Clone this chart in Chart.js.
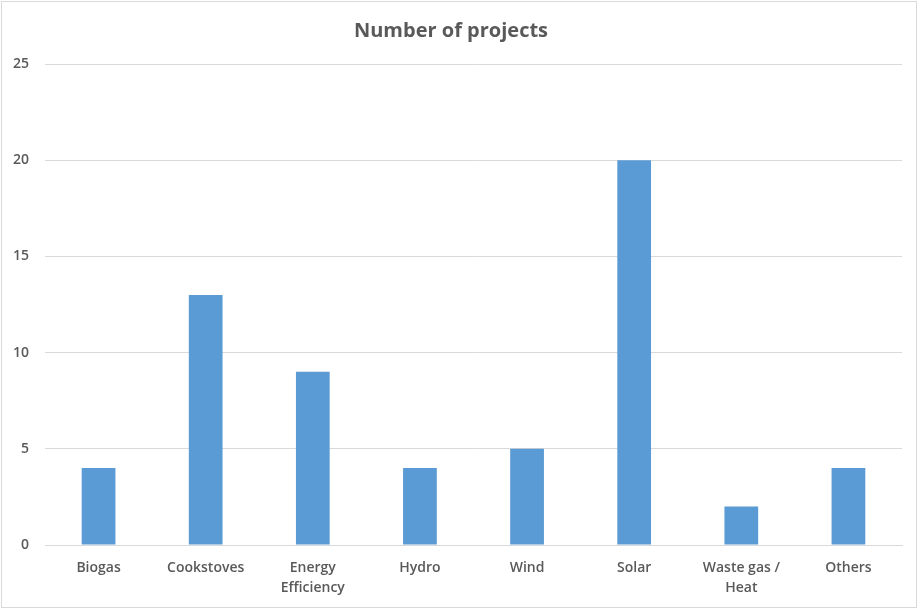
<!DOCTYPE html>
<html>
<head>
<meta charset="utf-8">
<script src="https://cdn.jsdelivr.net/npm/chart.js@4.4.0/dist/chart.umd.min.js"></script>
<style>
  body { margin: 0; background: #fff; }
  #wrap { position: relative; width: 918px; height: 609px; }
  #frame { position: absolute; left: 1px; top: 1px; width: 914px; height: 605px; border: 1px solid #d9d9d9; pointer-events: none; }
</style>
</head>
<body>
<div id="wrap">
  <canvas id="chart" width="918" height="609"></canvas>
  <div id="frame"></div>
</div>
<script>
const categories = ['Biogas', 'Cookstoves', ['Energy', 'Efficiency'], 'Hydro', 'Wind', 'Solar', ['Waste gas /', 'Heat'], 'Others'];
const projectCounts = [4, 13, 9, 4, 5, 20, 2, 4];
const yTicks = [0, 5, 10, 15, 20, 25];

const textColor = '#595959';
const gridColor = '#d9d9d9';

const chart = new Chart(document.getElementById('chart'), {
    type: 'bar',
    data: {
        labels: categories,
        datasets: [{
            label: 'Number of projects',
            data: projectCounts,
            backgroundColor: '#5B9BD5',
            borderWidth: 0,
            barPercentage: 0.63,
            categoryPercentage: 0.5
        }]
    },
    options: {
        responsive: false,
        animation: false,
        layout: { padding: { left: 0, right: 16, top: 0, bottom: 0 } },
        plugins: {
            legend: { display: false },
            tooltip: { enabled: false },
            title: {
                display: true,
                text: 'Number of projects',
                color: textColor,
                font: { family: 'Open Sans', size: 20, weight: 'bold' },
                padding: { top: 19, bottom: 21 }
            }
        },
        scales: {
            x: {
                grid: { display: false, drawTicks: false },
                border: { display: true, color: gridColor },
                ticks: {
                    color: textColor,
                    font: { family: 'Open Sans', size: 14, weight: '600', lineHeight: 1.43 },
                    padding: 13,
                    maxRotation: 0,
                    autoSkip: false
                },
                afterFit: function(scale) { scale.height = 64; }
            },
            y: {
                min: 0,
                max: 25,
                afterBuildTicks: function(scale) {
                    scale.ticks = yTicks.map(v => ({ value: v }));
                },
                grid: { color: gridColor, drawTicks: false },
                border: { display: false },
                ticks: {
                    color: textColor,
                    font: { family: 'Open Sans', size: 14, weight: '600' },
                    padding: 16
                },
                afterFit: function(scale) { scale.width = 45; }
            }
        }
    }
});
</script>
</body>
</html>
